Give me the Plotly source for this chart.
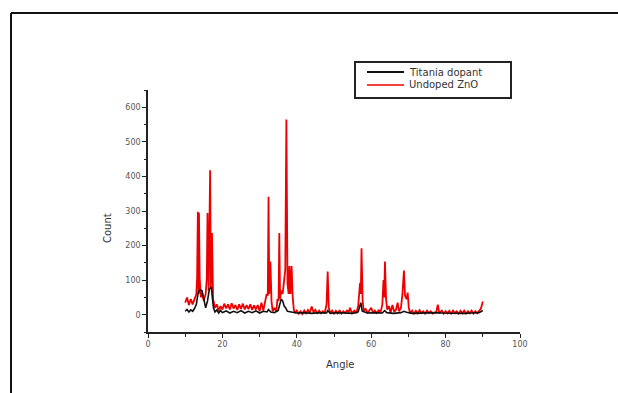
import plotly.graph_objects as go

# ---------------- data ----------------
undoped_angle = [10.0, 10.5, 11.0, 11.5, 12.0, 12.5, 13.0, 13.2, 13.4, 13.6, 13.7, 13.9, 14.2, 14.5, 15.0, 15.5,
                 15.8, 16.0, 16.3, 16.7, 16.9, 17.2, 17.5, 18.0, 18.5, 19.0, 19.5, 20.0, 20.5, 21.0, 21.5, 22.0,
                 22.5, 23.0, 23.5, 24.0, 24.5, 25.0, 25.5, 26.0, 26.5, 27.0, 27.5, 28.0, 28.5, 29.0, 29.5, 30.0,
                 30.5, 31.0, 31.5, 31.9, 32.2, 32.4, 32.6, 32.9, 33.2, 33.5, 34.0, 34.5, 34.8, 35.1, 35.3, 35.5,
                 35.8, 36.2, 36.6, 36.9, 37.2, 37.5, 37.8, 38.0, 38.3, 38.6, 38.9, 39.2, 39.5, 40.0, 40.5, 41.0,
                 41.5, 42.0, 42.5, 43.0, 43.5, 44.0, 44.5, 45.0, 45.5, 46.0, 46.5, 47.0, 47.5, 48.0, 48.3, 48.6,
                 49.0, 49.5, 50.0, 50.5, 51.0, 51.5, 52.0, 52.5, 53.0, 53.5, 54.0, 54.3, 54.8, 55.5, 56.0, 56.5,
                 57.0, 57.2, 57.4, 57.7, 58.0, 58.5, 59.0, 59.5, 60.0, 60.5, 61.0, 61.5, 62.0, 62.5, 63.0, 63.3,
                 63.5, 63.7, 64.0, 64.3, 64.8, 65.2, 65.7, 66.2, 66.7, 67.1, 67.5, 68.0, 68.4, 68.8, 69.1, 69.5,
                 69.8, 70.1, 70.5, 71.0, 71.5, 72.0, 72.5, 73.0, 73.5, 74.0, 74.5, 75.0, 75.5, 76.0, 76.5, 77.5,
                 77.9, 78.3, 79.0, 79.5, 80.0, 80.5, 81.0, 81.5, 82.0, 82.5, 83.0, 83.5, 84.0, 84.5, 85.0, 85.5,
                 86.0, 86.5, 87.0, 87.5, 88.0, 88.5, 89.0, 89.5, 90.0]
undoped_count = [35, 50, 28, 45, 30, 48, 60, 105, 298, 60, 295, 105, 50, 65, 40, 60,
                 105, 294, 70, 418, 80, 236, 45, 20, 30, 12, 25, 15, 32, 18, 30, 15,
                 33, 18, 28, 14, 30, 17, 32, 15, 28, 16, 30, 14, 27, 15, 28, 10,
                 35, 12, 40, 60, 55, 341, 60, 154, 40, 10, 20, 8, 45, 40, 236, 45,
                 70, 60, 100, 130, 565, 90, 60, 141, 60, 141, 50, 15, 5, 12, 3, 10,
                 2, 12, 4, 14, 6, 24, 8, 14, 3, 12, 4, 10, 5, 30, 125, 20,
                 4, 12, 3, 11, 4, 13, 3, 10, 5, 12, 8, 20, 5, 12, 4, 25,
                 92, 60, 192, 40, 10, 18, 4, 12, 20, 5, 12, 3, 14, 6, 30, 100,
                 50, 154, 45, 15, 25, 5, 28, 8, 15, 35, 10, 20, 60, 128, 55, 45,
                 64, 20, 4, 12, 3, 11, 4, 13, 5, 10, 3, 12, 5, 10, 3, 8,
                 29, 5, 12, 3, 10, 4, 11, 3, 12, 5, 10, 3, 11, 4, 12, 3,
                 10, 4, 12, 3, 10, 4, 12, 18, 38]

titania_angle = [10.0, 10.5, 11.0, 11.5, 12.0, 12.5, 13.0, 13.5, 14.0, 14.5, 15.0, 15.5, 16.0, 16.5, 17.0, 17.3,
                 17.6, 18.0, 18.5, 19.0, 19.5, 20.0, 21.0, 22.0, 23.0, 24.0, 25.0, 26.0, 27.0, 28.0, 29.0, 30.0,
                 31.0, 32.0, 32.4, 33.0, 34.0, 35.0, 35.5, 35.8, 36.2, 36.6, 37.0, 37.5, 38.5, 40.0, 42.0, 44.0,
                 46.0, 48.0, 48.3, 49.0, 51.0, 53.0, 55.0, 56.5, 57.2, 57.6, 59.0, 61.0, 63.0, 63.6, 64.2, 66.0,
                 68.0, 68.8, 69.5, 71.0, 73.0, 75.0, 77.0, 79.0, 81.0, 83.0, 85.0, 87.0, 89.0, 90.0]
titania_count = [10, 15, 8, 14, 10, 18, 30, 65, 72, 70, 45, 20, 40, 75, 80, 50,
                 20, 8, 14, 5, 12, 6, 11, 5, 10, 6, 12, 5, 10, 6, 11, 5,
                 10, 8, 15, 8, 6, 12, 30, 45, 40, 25, 20, 10, 8, 5, 6, 4,
                 6, 5, 12, 4, 6, 5, 4, 8, 35, 10, 5, 6, 5, 12, 6, 4,
                 6, 10, 7, 4, 5, 4, 6, 5, 4, 5, 4, 5, 6, 12]

x_ticks = [0, 20, 40, 60, 80, 100]
y_ticks = [0, 100, 200, 300, 400, 500, 600]
series_names = ["Titania dopant", "Undoped ZnO"]

# ---------------- layout geometry ----------------
W, H = 618, 393
ML, MR, MT, MB = 148, 98, 90, 61
PW, PH = W - ML - MR, H - MT - MB


def px(xp):
    return (xp - ML) / PW


def py(yp):
    return (H - MB - yp) / PH


fig = go.Figure()
fig.add_trace(go.Scatter(x=undoped_angle, y=undoped_count, mode="lines", name=series_names[1],
                         line=dict(color="#ee0000", width=1.8), showlegend=False))
fig.add_trace(go.Scatter(x=titania_angle, y=titania_count, mode="lines", name=series_names[0],
                         line=dict(color="#111111", width=1.6), showlegend=False))

tickfont = dict(family="DejaVu Sans", size=8, color="#555555")
fig.update_xaxes(range=[0, 100], tickvals=x_ticks, ticktext=[str(v) for v in x_ticks],
                 showline=True, linecolor="#222222", linewidth=1.5, ticks="outside", ticklen=4,
                 tickwidth=1, tickcolor="#222222", tickfont=tickfont, showgrid=False, zeroline=False,
                 minor=dict(ticks="outside", ticklen=3, dtick=10, tick0=0, tickcolor="#222222", showgrid=False))
fig.update_yaxes(range=[-50, 650], tickvals=y_ticks, ticktext=[str(v) for v in y_ticks],
                 showline=True, linecolor="#222222", linewidth=1.5, ticks="outside", ticklen=4,
                 tickwidth=1, tickcolor="#222222", tickfont=tickfont, showgrid=False, zeroline=False,
                 minor=dict(ticks="outside", ticklen=2, dtick=50, tick0=0, tickcolor="#222222", showgrid=False))

shapes = []
# outer frame (only top and left edges are visible in the picture)
shapes.append(dict(type="line", xref="paper", yref="paper", x0=px(11), x1=px(W), y0=py(13), y1=py(13),
                   line=dict(color="#111111", width=2)))
shapes.append(dict(type="line", xref="paper", yref="paper", x0=px(11), x1=px(11), y0=py(13), y1=py(H),
                   line=dict(color="#111111", width=2)))
# legend box
shapes.append(dict(type="rect", xref="paper", yref="paper", x0=px(355), x1=px(511), y0=py(98), y1=py(62),
                   line=dict(color="#222222", width=2), fillcolor="white"))
shapes.append(dict(type="line", xref="paper", yref="paper", x0=px(367), x1=px(404), y0=py(72), y1=py(72),
                   line=dict(color="#111111", width=2)))
shapes.append(dict(type="line", xref="paper", yref="paper", x0=px(367), x1=px(404), y0=py(85), y1=py(85),
                   line=dict(color="#ee0000", width=1.5)))

textfont = dict(family="DejaVu Sans", size=10, color="#333333")
annotations = [
    dict(text=series_names[0], xref="paper", yref="paper", x=px(407), y=py(72), xanchor="left", yanchor="middle",
         showarrow=False, font=textfont),
    dict(text=series_names[1], xref="paper", yref="paper", x=px(407), y=py(85), xanchor="left", yanchor="middle",
         showarrow=False, font=textfont),
    dict(text="Count", xref="paper", yref="paper", x=px(107), y=py(228), xanchor="center", yanchor="middle",
         textangle=-90, showarrow=False, font=textfont),
    dict(text="Angle", xref="paper", yref="paper", x=px(340), y=py(365), xanchor="center", yanchor="middle",
         showarrow=False, font=textfont),
]

fig.update_layout(width=W, height=H, margin=dict(l=ML, r=MR, t=MT, b=MB),
                  paper_bgcolor="white", plot_bgcolor="white", showlegend=False,
                  shapes=shapes, annotations=annotations)

fig.write_html("out.html", config={"displayModeBar": False},
               post_script="document.body.style.margin='0';document.body.style.overflow='hidden';")
